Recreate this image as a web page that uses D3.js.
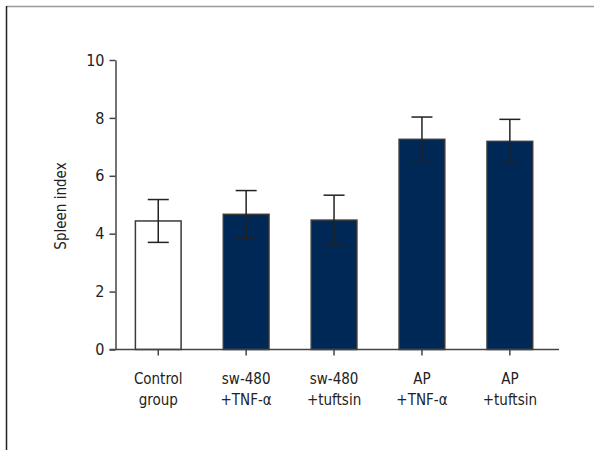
<!DOCTYPE html>
<html>
<head>
<meta charset="utf-8">
<script src="https://cdn.jsdelivr.net/npm/d3@7"></script>
<style>
  html, body { margin: 0; padding: 0; background: #fff; }
  svg { display: block; }
  .lbl { font-family: "Liberation Sans Narrow", "DejaVu Sans Condensed", "Roboto Condensed", sans-serif; fill: #222; }
</style>
</head>
<body>
<svg id="chart" width="594" height="450"></svg>
<script>
// Groups, mean spleen index and error (SD) per group
const categories = [["Control", "group"], ["sw-480", "+TNF-α"], ["sw-480", "+tuftsin"], ["AP", "+TNF-α"], ["AP", "+tuftsin"]];
const means = [4.44, 4.67, 4.47, 7.26, 7.19];
const errors = [0.74, 0.82, 0.86, 0.77, 0.76];
const fills = ["#ffffff", "#002856", "#002856", "#002856", "#002856"];
const yTicks = [0, 2, 4, 6, 8, 10];

const svg = d3.select("#chart");

// outer frame (left and top edges only)
svg.append("line").attr("x1", 6.5).attr("x2", 594).attr("y1", 6.5).attr("y2", 6.5)
  .attr("stroke", "#999").attr("stroke-width", 1.5);
svg.append("line").attr("x1", 6.5).attr("x2", 6.5).attr("y1", 6).attr("y2", 450)
  .attr("stroke", "#222").attr("stroke-width", 1.5);

const x = d3.scaleBand().domain(d3.range(categories.length)).range([114.3, 553.8]).paddingInner(0.48).paddingOuter(0.24);
const y = d3.scaleLinear().domain([0, 10]).range([349.5, 60]);
const axisX = 115.5;

// bars
const g = svg.append("g");
g.selectAll("rect.bar").data(means).join("rect")
  .attr("class", "bar")
  .attr("x", (d, i) => x(i))
  .attr("width", x.bandwidth())
  .attr("y", d => y(d))
  .attr("height", d => y(0) - y(d))
  .attr("fill", (d, i) => fills[i])
  .attr("stroke", "#3a3a3a").attr("stroke-width", 1.5);

// error bars
const capW = 21;
means.forEach((m, i) => {
  const cx = x(i) + x.bandwidth() / 2;
  const e = g.append("g").attr("stroke", "#222").attr("stroke-width", 1.5);
  e.append("line").attr("x1", cx).attr("x2", cx).attr("y1", y(m + errors[i])).attr("y2", y(m - errors[i]));
  e.append("line").attr("x1", cx - capW / 2).attr("x2", cx + capW / 2).attr("y1", y(m + errors[i])).attr("y2", y(m + errors[i]));
  e.append("line").attr("x1", cx - capW / 2).attr("x2", cx + capW / 2).attr("y1", y(m - errors[i])).attr("y2", y(m - errors[i]));
});

// y axis
const yAxis = svg.append("g").attr("transform", `translate(${axisX},0)`)
  .call(d3.axisLeft(y).tickValues(yTicks).tickSize(6).tickSizeOuter(0).tickPadding(5));
yAxis.select(".domain").attr("stroke", "#444").attr("stroke-width", 1.5);
yAxis.selectAll(".tick line").attr("stroke", "#444").attr("stroke-width", 1.5);
yAxis.selectAll(".tick text").attr("class", "lbl").attr("font-size", 16).attr("fill", "#222");

// x axis
const xAxisG = svg.append("g").attr("transform", `translate(0,${y(0)})`);
xAxisG.append("line").attr("x1", axisX - 6).attr("x2", 559).attr("y1", 0).attr("y2", 0)
  .attr("stroke", "#444").attr("stroke-width", 1.5);
xAxisG.selectAll("line.tk").data(categories).join("line").attr("class", "tk")
  .attr("x1", (d, i) => x(i) + x.bandwidth() / 2).attr("x2", (d, i) => x(i) + x.bandwidth() / 2)
  .attr("y1", 0).attr("y2", 6).attr("stroke", "#444").attr("stroke-width", 1.5);
const labels = xAxisG.selectAll("text.cat").data(categories).join("text")
  .attr("class", "lbl cat")
  .attr("font-size", 15)
  .attr("text-anchor", "middle")
  .attr("transform", (d, i) => `translate(${x(i) + x.bandwidth() / 2},0)`);
labels.selectAll("tspan").data(d => d).join("tspan")
  .attr("x", 0).attr("y", (d, j) => 34 + j * 21)
  .text(d => d);

// y axis title
svg.append("text").attr("class", "lbl")
  .attr("font-size", 15)
  .attr("text-anchor", "middle")
  .attr("transform", `translate(66,206) rotate(-90)`)
  .text("Spleen index");
</script>
</body>
</html>
